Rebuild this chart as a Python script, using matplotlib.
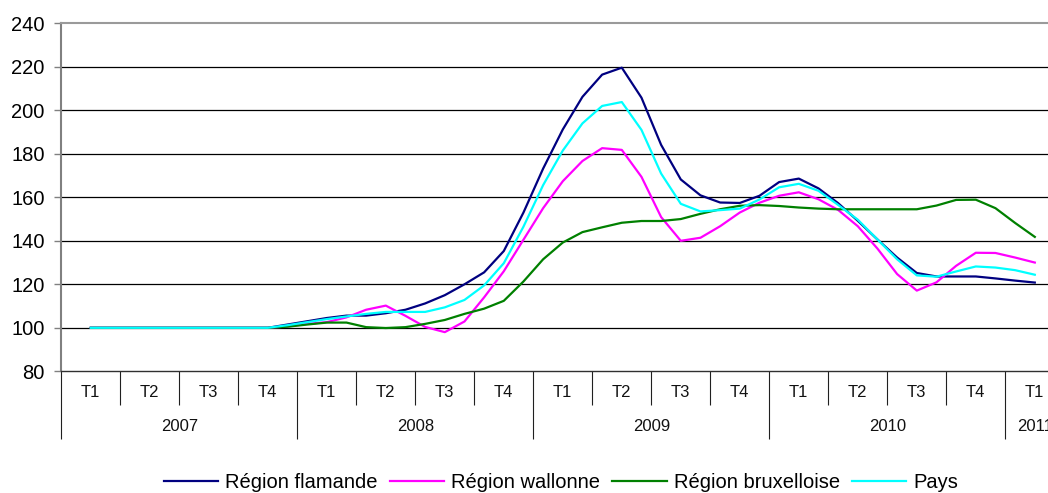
import numpy as np
import matplotlib
matplotlib.use("Agg")
import matplotlib.pyplot as plt

plt.rcParams['font.family'] = ['Liberation Sans', 'DejaVu Sans']

# ---- data (monthly index values, Feb 2007 .. Feb 2011) ----
flamande = [100, 100, 100, 100, 100, 100, 100, 100, 100, 100,
            101.5, 103, 104.5, 105.6, 105.6, 106.7, 108.3, 111.2, 115, 120,
            125.5, 135.3, 153, 173.2, 191.2, 206.2, 216.4, 219.6, 205.8, 184.1,
            168.2, 160.9, 157.6, 157.4, 160.7, 167, 168.6, 164.1, 157.3, 149.2,
            140.6, 132.3, 125.2, 123.6, 123.6, 123.6, 122.7, 121.7, 120.8]
wallonne = [100, 100, 100, 100, 100, 100, 100, 100, 100, 100,
            100.6, 101.8, 102.6, 104.8, 108.3, 110.2, 105.5, 100.4, 98, 102.9,
            114, 126, 140.5, 155, 167.4, 176.7, 182.6, 181.8, 169.4, 150.9,
            140, 141.4, 146.7, 153, 157.5, 160.7, 162.3, 159.1, 154.2, 146.7,
            136.4, 124.7, 117.1, 120.9, 128.5, 134.5, 134.4, 132.3, 130]
bruxelles = [100, 100, 100, 100, 100, 100, 100, 100, 100, 100,
             100.5, 101.5, 102.4, 102.4, 100.3, 99.9, 100.3, 101.8, 103.6, 106.4,
             108.8, 112.4, 121.3, 131.5, 139.2, 144, 146.2, 148.3, 149.1, 149.1,
             150, 152.4, 154.5, 156.1, 156.4, 156, 155.3, 154.8, 154.5, 154.5,
             154.5, 154.5, 154.5, 156.2, 158.8, 158.9, 155, 148.2, 141.8]
pays = [100, 100, 100, 100, 100, 100, 100, 100, 100, 100,
        101.2, 102.6, 104, 105.2, 106.4, 107.3, 107.3, 107.3, 109.4, 112.8,
        119.5, 129.7, 146.5, 165.6, 181.5, 194, 202, 203.8, 191, 170.9,
        157, 153.5, 154.1, 154.8, 159, 164.6, 166.2, 163, 156.5, 149.7,
        140.6, 131.5, 124.1, 123.5, 125.9, 128.2, 127.7, 126.5, 124.4]

series_names = ['Région flamande', 'Région wallonne', 'Région bruxelloise', 'Pays']
series_colors = ['#000080', '#FF00FF', '#008000', '#00FFFF']

trimestres = ['T1', 'T2', 'T3', 'T4'] * 4 + ['T1']
annees = ['2007', '2008', '2009', '2010', '2011']
annee_nb_trim = [4, 4, 4, 4, 1]

# ---- figure ----
W, H = 1048, 493
fig = plt.figure(figsize=(W / 100, H / 100), dpi=100)
left_px, top_px, bottom_px = 61.3, 23.3, 371.3
n_months = 3 * len(trimestres)
quarter_px = 59.0
ax = fig.add_axes([left_px / W, 1 - bottom_px / H,
                   n_months / 3 * quarter_px / W, (bottom_px - top_px) / H])

x = np.arange(len(flamande)) + 1.5
for vals, name, col in zip([flamande, wallonne, bruxelles, pays], series_names, series_colors):
    ax.plot(x, vals, color=col, lw=1.6, label=name, zorder=3, solid_joinstyle='round')

ax.set_xlim(0, n_months)
ax.set_ylim(80, 240)
ax.set_yticks(np.arange(80, 241, 20))
ax.tick_params(axis='y', labelsize=14.5, length=5, width=1, color='#808080', pad=7)
for yv in range(100, 240, 20):
    ax.axhline(yv, color='black', lw=0.9, zorder=1)

ax.spines['right'].set_visible(False)
ax.spines['left'].set_color('#808080')
ax.spines['left'].set_linewidth(1.5)
ax.spines['top'].set_color('#9a9a9a')
ax.spines['top'].set_linewidth(1.5)
ax.spines['bottom'].set_color('#303030')
ax.spines['bottom'].set_linewidth(1.0)

# x category axis: quarter separators (minor), year separators (major)
q_bounds = np.arange(0, n_months + 1, 3)
y_bounds = np.concatenate([[0], np.cumsum(annee_nb_trim) * 3])
ax.set_xticks(y_bounds)
ax.set_xticks(q_bounds, minor=True)
ax.set_xticklabels([])
ax.tick_params(axis='x', which='major', length=49, width=0.8, color='#202020', direction='out')
ax.tick_params(axis='x', which='minor', length=24.5, width=0.8, color='#202020', direction='out')

tr = ax.get_xaxis_transform()
for i, t in enumerate(trimestres):
    ax.text(3 * i + 1.5, -0.0615, t, transform=tr, ha='center', va='center',
            fontsize=12, color='#111111', clip_on=False)
for i, a in enumerate(annees):
    c = (y_bounds[i] + y_bounds[i + 1]) / 2
    ax.text(c, -0.159, a, transform=tr, ha='center', va='center',
            fontsize=12, color='#111111', clip_on=False)

leg = fig.legend(loc='center', bbox_to_anchor=(561 / W, 1 - 483 / H), ncol=4,
                 frameon=False, fontsize=14.5, handlelength=2.7, handletextpad=0.35,
                 columnspacing=0.6, borderpad=0, borderaxespad=0)
for line in leg.get_lines():
    line.set_linewidth(1.6)

fig.savefig('out.png', dpi=100)
